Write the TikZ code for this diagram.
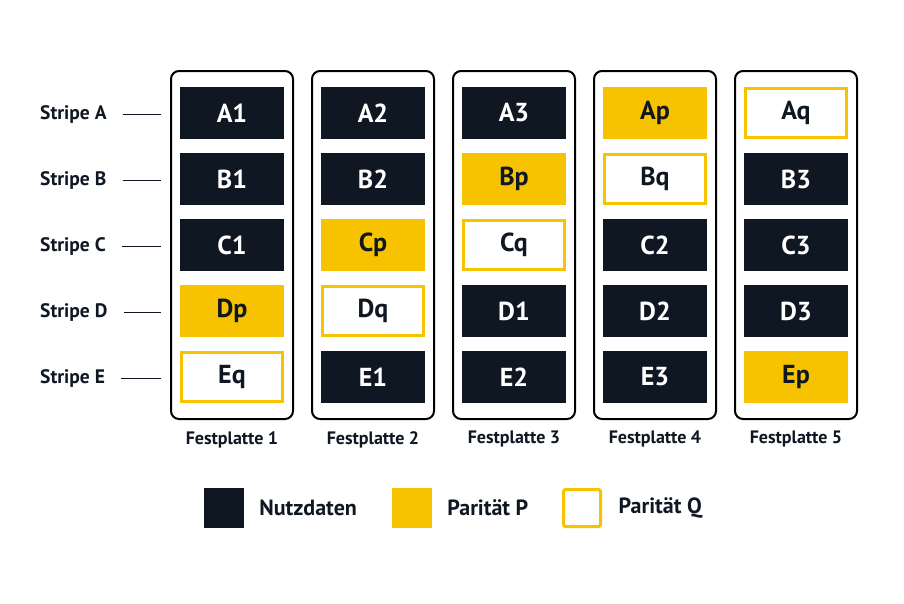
\documentclass[tikz,border=0pt]{standalone}
\usepackage{fontspec}
\setmainfont{PT Sans}
\usetikzlibrary{matrix,positioning,fit}
\definecolor{navy}{HTML}{0F1722}
\definecolor{gold}{HTML}{F7C300}

\begin{document}
\begin{tikzpicture}[
x=1pt, y=-1pt,
cell/.style={
  minimum width=104pt,
  minimum height=52pt,
  inner sep=0pt,
  outer sep=0pt,
  anchor=center,
  font=\fontsize{26}{26}\selectfont\bfseries
  },
dat/.style={fill=navy, text=white},
parp/.style={fill=gold, text=navy},
parq/.style={
  draw=gold,
  line width=3pt,
  fill=white,
  text=navy,
  minimum width=101pt,
  minimum height=49pt
  },
grid/.style={
  matrix of nodes,
  nodes={cell},
  inner sep=0pt,
  outer sep=0pt,
  column sep=37pt,
  row sep=14pt
  },
disk/.style={
  draw=black,
  line width=2pt,
  rounded corners=8pt,
  inner xsep=0pt,
  inner ysep=16pt,
  minimum width=122pt
  },
stripe/.style={
  anchor=west,
  inner sep=0pt,
  yshift=-1.5pt,
  text=navy,
  font=\fontsize{19.5}{19.5}\selectfont\bfseries
  },
disklabel/.style={
  inner sep=0pt,
  text=navy,
  font=\fontsize{18}{18}\selectfont\bfseries
  },
key/.style={
  minimum size=40pt,
  inner sep=0pt
  },
keytext/.style={
  inner sep=0pt,
  anchor=west,
  text=navy,
  font=\fontsize{22}{22}\selectfont\bfseries
  }
]
\useasboundingbox[fill=white] (0,0) rectangle (904,603);

\matrix[grid] (mat) at (514,245)
{
|[dat]| A1 & |[dat]| A2 & |[dat]| A3 & |[parp]| Ap & |[parq]| Aq \\
|[dat]| B1 & |[dat]| B2 & |[parp]| Bp & |[parq]| Bq & |[dat]| B3 \\
|[dat]| C1 & |[parp]| Cp & |[parq]| Cq & |[dat]| C2 & |[dat]| C3 \\
|[parp]| Dp & |[parq]| Dq & |[dat]| D1 & |[dat]| D2 & |[dat]| D3 \\
|[parq]| Eq & |[dat]| E1 & |[dat]| E2 & |[dat]| E3 & |[parp]| Ep \\
};

% Festplatten
\foreach \i in {1,...,5}
{
  \node[disk, fit=(mat.north -| mat-1-\i)(mat.south -| mat-1-\i)] (disk\i) {};
  \node[disklabel, below=11pt of disk\i] (name\i) {Festplatte \i};
}

% Stripes
\coordinate (lbl) at (40,0);
\foreach \s [count=\r] in {A,...,E}
{
  \node[stripe] (s\s) at (lbl |- mat-\r-1) {Stripe \s};
  \draw[line width=1.5pt, navy, shorten <=16pt, shorten >=9pt] (s\s.east) -- (s\s.east -| disk1.west);
}

% Legende
\node[key, fill=navy] (k1) at (224,508) {};
\node[keytext, right=15pt of k1] (t1) {Nutzdaten};
\node[key, fill=gold] (k2) at (412,508) {};
\node[keytext, right=15pt of k2] (t2) {Parität P};
\node[key, draw=gold, line width=3pt, minimum size=37pt, rounded corners=2pt] (k3) at (582,508) {};
\node[keytext, right=16.5pt of k3] (t3) {Parität Q};

\end{tikzpicture}
\end{document}
